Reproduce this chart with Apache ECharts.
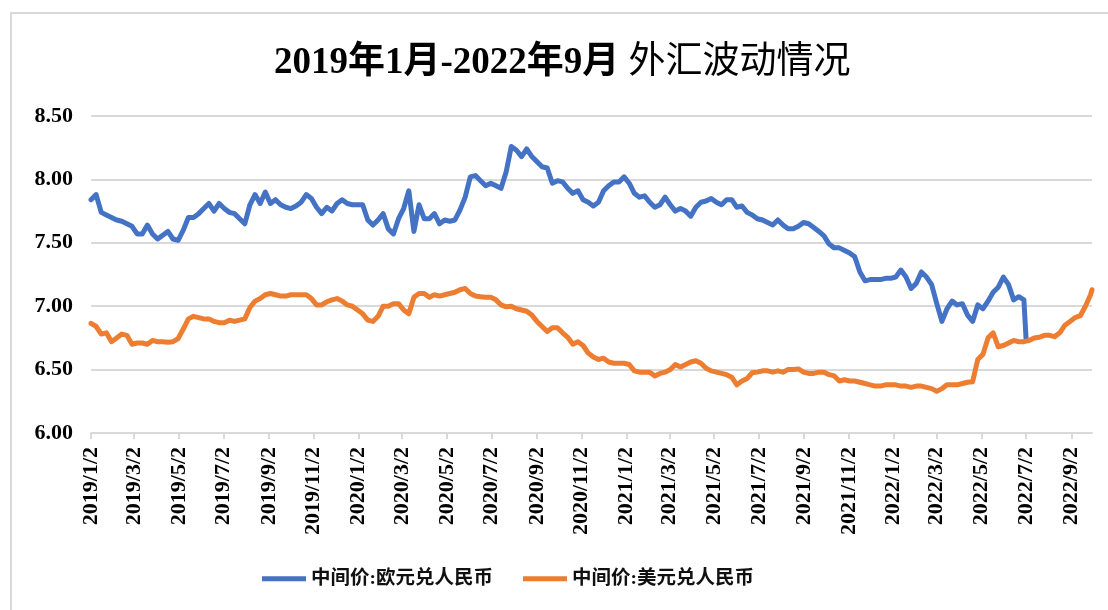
<!DOCTYPE html>
<html>
<head>
<meta charset="utf-8">
<style>
html,body{margin:0;padding:0;background:#fff;}
#chart{width:1108px;height:610px;}
</style>
<script src="https://cdn.jsdelivr.net/npm/echarts@6/dist/echarts.min.js"></script>
</head>
<body>
<div id="chart"></div>
<script>
var titleBold = '2019年1月-2022年9月';
var titleRest = ' 外汇波动情况';
var seriesNames = ['中间价:欧元兑人民币', '中间价:美元兑人民币'];
var xTickLabels = ['2019/1/2','2019/3/2','2019/5/2','2019/7/2','2019/9/2','2019/11/2',
  '2020/1/2','2020/3/2','2020/5/2','2020/7/2','2020/9/2','2020/11/2',
  '2021/1/2','2021/3/2','2021/5/2','2021/7/2','2021/9/2','2021/11/2',
  '2022/1/2','2022/3/2','2022/5/2','2022/7/2','2022/9/2'];
var xStart = '2019/1/2';
var xEnd = '2022/9/30';

var dates = [
'2019-01-02','2019-01-09','2019-01-16','2019-01-23','2019-01-30','2019-02-06','2019-02-13','2019-02-20','2019-02-27',
'2019-03-06','2019-03-13','2019-03-20','2019-03-27','2019-04-03','2019-04-10','2019-04-17','2019-04-24',
'2019-05-01','2019-05-08','2019-05-15','2019-05-22','2019-05-29','2019-06-05','2019-06-12','2019-06-19','2019-06-26',
'2019-07-03','2019-07-10','2019-07-17','2019-07-24','2019-07-31','2019-08-07','2019-08-14','2019-08-21','2019-08-28',
'2019-09-04','2019-09-11','2019-09-18','2019-09-25','2019-10-02','2019-10-09','2019-10-16','2019-10-23','2019-10-30',
'2019-11-06','2019-11-13','2019-11-20','2019-11-27','2019-12-04','2019-12-11','2019-12-18','2019-12-25',
'2020-01-01','2020-01-08','2020-01-15','2020-01-22','2020-01-29','2020-02-05','2020-02-12','2020-02-19','2020-02-26',
'2020-03-04','2020-03-11','2020-03-18','2020-03-25','2020-04-01','2020-04-08','2020-04-15','2020-04-22','2020-04-29',
'2020-05-06','2020-05-13','2020-05-20','2020-05-27','2020-06-03','2020-06-10','2020-06-17','2020-06-24',
'2020-07-01','2020-07-08','2020-07-15','2020-07-22','2020-07-29','2020-08-05','2020-08-12','2020-08-19','2020-08-26',
'2020-09-02','2020-09-09','2020-09-16','2020-09-23','2020-09-30','2020-10-07','2020-10-14','2020-10-21','2020-10-28',
'2020-11-04','2020-11-11','2020-11-18','2020-11-25','2020-12-02','2020-12-09','2020-12-16','2020-12-23','2020-12-30',
'2021-01-06','2021-01-13','2021-01-20','2021-01-27','2021-02-03','2021-02-10','2021-02-17','2021-02-24',
'2021-03-03','2021-03-10','2021-03-17','2021-03-24','2021-03-31','2021-04-07','2021-04-14','2021-04-21','2021-04-28',
'2021-05-05','2021-05-12','2021-05-19','2021-05-26','2021-06-02','2021-06-09','2021-06-16','2021-06-23','2021-06-30',
'2021-07-07','2021-07-14','2021-07-21','2021-07-28','2021-08-04','2021-08-11','2021-08-18','2021-08-25',
'2021-09-01','2021-09-08','2021-09-15','2021-09-22','2021-09-29','2021-10-06','2021-10-13','2021-10-20','2021-10-27',
'2021-11-03','2021-11-10','2021-11-17','2021-11-24','2021-12-01','2021-12-08','2021-12-15','2021-12-22','2021-12-29',
'2022-01-05','2022-01-12','2022-01-19','2022-01-26','2022-02-02','2022-02-09','2022-02-16','2022-02-23',
'2022-03-02','2022-03-09','2022-03-16','2022-03-23','2022-03-30','2022-04-06','2022-04-13','2022-04-20','2022-04-27',
'2022-05-04','2022-05-11','2022-05-18','2022-05-25','2022-06-01','2022-06-08','2022-06-15','2022-06-22','2022-06-29',
'2022-07-01','2022-07-02','2022-07-06','2022-07-13','2022-07-20','2022-07-27','2022-08-03','2022-08-10','2022-08-17',
'2022-08-24','2022-08-31','2022-09-07','2022-09-14','2022-09-21','2022-09-28','2022-09-30'
];

var eurCny = [
7.84,7.88,7.74,7.72,7.70,7.68,7.67,7.65,7.63,
7.57,7.57,7.64,7.57,7.53,7.56,7.59,7.53,
7.52,7.60,7.70,7.70,7.73,7.77,7.81,7.75,7.81,
7.77,7.74,7.73,7.69,7.65,7.80,7.88,7.81,7.90,
7.81,7.84,7.80,7.78,7.77,7.79,7.82,7.88,7.85,
7.78,7.73,7.78,7.75,7.81,7.84,7.81,7.80,
7.80,7.80,7.68,7.64,7.68,7.73,7.61,7.57,7.69,
7.77,7.91,7.59,7.80,7.69,7.69,7.73,7.65,7.68,
7.67,7.68,7.76,7.86,8.02,8.03,7.99,7.95,
7.97,7.95,7.93,8.06,8.26,8.23,8.18,8.24,8.18,
8.14,8.10,8.09,7.97,7.99,7.98,7.93,7.89,7.91,
7.84,7.82,7.79,7.82,7.91,7.95,7.98,7.98,8.02,
7.97,7.89,7.86,7.87,7.82,7.78,7.80,7.86,
7.80,7.75,7.77,7.75,7.71,7.78,7.82,7.83,7.85,
7.82,7.80,7.84,7.84,7.78,7.79,7.74,7.72,7.69,
7.68,7.66,7.64,7.68,7.64,7.61,7.61,7.63,
7.66,7.65,7.62,7.59,7.555,7.49,7.46,7.46,7.44,
7.42,7.39,7.27,7.20,7.21,7.21,7.21,7.22,7.22,
7.23,7.285,7.23,7.14,7.18,7.27,7.23,7.17,
7.02,6.88,6.98,7.04,7.01,7.02,6.93,6.88,7.01,
6.98,7.04,7.11,7.15,7.23,7.17,7.05,7.075,7.05,
7.04,6.74,null,null,null,null,null,null,null,
null,null,null,null,null,null,null
];

var usdCny = [
6.865,6.84,6.78,6.79,6.72,6.75,6.78,6.77,6.70,
6.71,6.71,6.70,6.73,6.72,6.72,6.715,6.72,
6.745,6.82,6.90,6.92,6.91,6.90,6.90,6.88,6.87,
6.87,6.89,6.88,6.89,6.90,6.99,7.04,7.06,7.09,
7.10,7.09,7.08,7.08,7.09,7.09,7.09,7.09,7.06,
7.01,7.01,7.035,7.05,7.06,7.04,7.01,7.00,
6.97,6.94,6.89,6.88,6.92,7.00,7.00,7.02,7.02,
6.97,6.94,7.07,7.10,7.10,7.07,7.09,7.08,7.09,
7.10,7.11,7.13,7.14,7.10,7.08,7.075,7.07,
7.07,7.05,7.01,6.995,7.00,6.98,6.97,6.96,6.93,
6.88,6.84,6.80,6.83,6.83,6.79,6.755,6.70,6.72,
6.69,6.63,6.60,6.58,6.59,6.56,6.55,6.55,6.55,
6.54,6.49,6.48,6.48,6.48,6.45,6.47,6.48,
6.50,6.54,6.52,6.54,6.56,6.57,6.55,6.51,6.49,
6.48,6.47,6.46,6.44,6.38,6.41,6.43,6.475,6.48,
6.49,6.49,6.48,6.49,6.48,6.50,6.50,6.505,
6.48,6.47,6.47,6.48,6.48,6.46,6.45,6.41,6.42,
6.41,6.41,6.40,6.39,6.38,6.37,6.37,6.38,6.38,
6.38,6.37,6.37,6.36,6.37,6.37,6.36,6.35,
6.33,6.35,6.38,6.38,6.38,6.39,6.40,6.405,6.58,
6.62,6.75,6.79,6.68,6.69,6.71,6.73,6.72,6.72,
6.72,6.725,6.73,6.75,6.755,6.77,6.77,6.76,6.79,
6.85,6.88,6.91,6.925,7.00,7.09,7.13
];

var yMin = 6, yMax = 8.5, yStep = 0.5;

function parseSlash(s) {
  var p = s.split('/');
  return new Date(+p[0], +p[1] - 1, +p[2]).getTime();
}
function parseDash(s) {
  var p = s.split('-');
  return new Date(+p[0], +p[1] - 1, +p[2]).getTime();
}
function fmt(ts) {
  var d = new Date(Math.round(ts));
  return d.getFullYear() + '/' + (d.getMonth() + 1) + '/' + d.getDate();
}
var tickValues = xTickLabels.map(parseSlash);

function pairs(vals) {
  return dates.map(function (d, i) { return [parseDash(d), vals[i]]; });
}

var serifFont = '"Liberation Serif", "Times New Roman", "Noto Sans CJK SC", serif';
var chart = echarts.init(document.getElementById('chart'), null, { renderer: 'canvas' });
var option = {
  animation: false,
  backgroundColor: '#fff',
  graphic: [{
    type: 'rect',
    shape: { x: 11, y: 13, width: 1200, height: 700 },
    style: { fill: 'none', stroke: '#d9d9d9', lineWidth: 2 },
    silent: true
  }],
  title: {
    text: '{a|' + titleBold + '}{b|' + titleRest + '}',
    left: 274,
    top: 45,
    padding: 0,
    textStyle: {
      rich: {
        a: { fontFamily: serifFont, fontWeight: 'bold', fontSize: 37, color: '#000' },
        b: { fontFamily: serifFont, fontWeight: 'normal', fontSize: 37, color: '#000' }
      }
    }
  },
  legend: {
    left: 262,
    top: 569,
    padding: 0,
    itemWidth: 44,
    itemHeight: 14,
    itemGap: 30,
    icon: 'path://M0,0 L44,0 L44,5 L0,5 Z',
    textStyle: { fontFamily: serifFont, fontSize: 19.5, fontWeight: 'bold', color: '#111' },
    data: seriesNames
  },
  grid: { left: 91, right: 16, top: 116, bottom: 177, containLabel: false },
  xAxis: {
    type: 'value',
    min: parseSlash(xStart),
    max: parseSlash(xEnd),
    axisLine: { show: true, lineStyle: { color: '#d9d9d9', width: 2 } },
    axisTick: { show: true, customValues: tickValues, length: 6, inside: false, lineStyle: { color: '#d9d9d9', width: 2 } },
    axisLabel: {
      customValues: tickValues,
      rotate: 90,
      margin: 14,
      formatter: function (v) { return fmt(v); },
      fontFamily: serifFont,
      fontWeight: 'bold',
      fontSize: 22,
      color: '#000'
    },
    splitLine: { show: false }
  },
  yAxis: {
    type: 'value',
    min: yMin,
    max: yMax,
    interval: yStep,
    axisLine: { show: false },
    axisTick: { show: false },
    axisLabel: {
      formatter: function (v) { return v.toFixed(2); },
      fontFamily: serifFont,
      fontWeight: 'bold',
      fontSize: 22,
      color: '#000',
      margin: 18
    },
    splitLine: { show: true, lineStyle: { color: '#d9d9d9', width: 2 } }
  },
  series: [
    {
      name: seriesNames[0],
      type: 'line',
      data: pairs(eurCny),
      showSymbol: false,
      symbol: 'none',
      connectNulls: false,
      lineStyle: { color: '#4472C4', width: 5, join: 'round', cap: 'round' },
      itemStyle: { color: '#4472C4' }
    },
    {
      name: seriesNames[1],
      type: 'line',
      data: pairs(usdCny),
      showSymbol: false,
      symbol: 'none',
      lineStyle: { color: '#ED7D31', width: 5, join: 'round', cap: 'round' },
      itemStyle: { color: '#ED7D31' }
    }
  ]
};
chart.setOption(option);
</script>
</body>
</html>
